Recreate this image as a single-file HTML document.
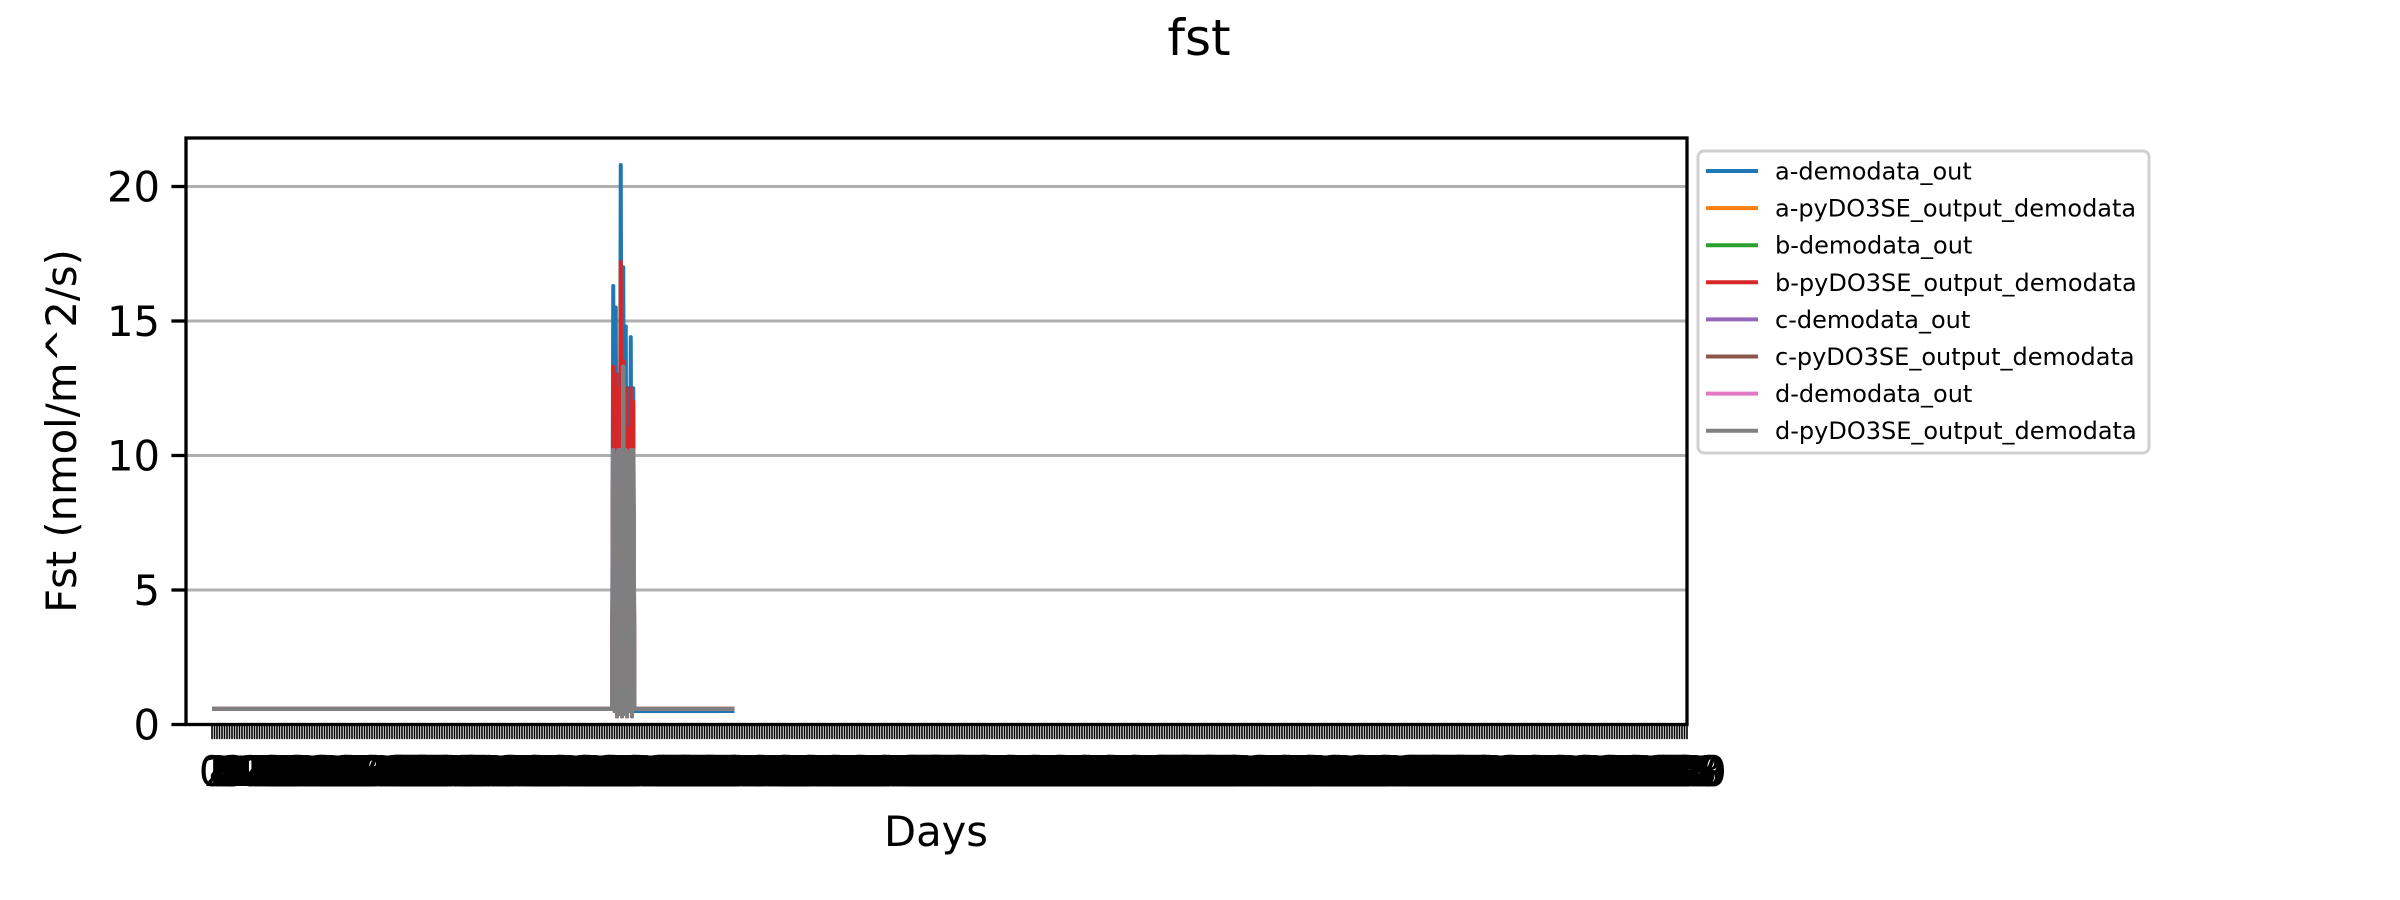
<!DOCTYPE html>
<html><head><meta charset="utf-8"><style>
html,body{margin:0;padding:0;background:#fff}
svg{display:block;font-family:"DejaVu Sans","Liberation Sans",sans-serif}
</style></head><body>
<svg id="chart" width="2400" height="900" viewBox="0 0 2400 900" xmlns="http://www.w3.org/2000/svg">
<rect width="2400" height="900" fill="#fff"/>
<text x="1199" y="55" font-size="50" text-anchor="middle">fst</text>
<g id="grid"></g>
<g id="series"></g>
<g id="xaxis"></g>
<g id="yaxis"></g>
<rect x="186" y="138" width="1501" height="586.5" fill="none" stroke="#000" stroke-width="3.3"/>
<text x="936" y="846" font-size="41.7" text-anchor="middle">Days</text>
<text transform="translate(76,431) rotate(-90)" font-size="41.7" text-anchor="middle">Fst (nmol/m^2/s)</text>
<g id="legend">
<rect x="1698" y="151" width="451" height="302" rx="6" fill="#fff" fill-opacity="0.8" stroke="#d0d0d0" stroke-width="3"/>
</g>
</svg>
<script>
const yTicks = [0, 5, 10, 15, 20];
const seriesNames = ["a-demodata_out","a-pyDO3SE_output_demodata","b-demodata_out","b-pyDO3SE_output_demodata","c-demodata_out","c-pyDO3SE_output_demodata","d-demodata_out","d-pyDO3SE_output_demodata"];
const seriesColors = ["#1f77b4","#ff7f0e","#2ca02c","#d62728","#9467bd","#8c564b","#e377c2","#7f7f7f"];
const xPoints = [0,160,160.5,161,161.5,162,162.5,163,163.5,164,164.5,165,165.5,166,166.5,167,167.5,168,168.5,169,209];
const aOut = [0.58,0.58,16.3,0.5,15.5,0.3,13,0.4,20.8,0.3,17,0.4,14.8,0.3,12.5,0.5,14.4,0.3,12.5,0.5,0.5];
const aPy  = [0.58,0.58,10.2,0.5,10,0.3,10.2,0.4,10.2,0.3,13.3,0.4,10.2,0.3,10.1,0.5,10.2,0.3,10.2,0.58,0.58];
const bOut = [0.58,0.58,10.2,0.5,10,0.3,10.2,0.4,10.2,0.3,13.3,0.4,10.2,0.3,10.1,0.5,10.2,0.3,10.2,0.58,0.58];
const bPy  = [0.58,0.58,13.3,0.5,13,0.3,12.5,0.4,17.2,0.3,13.5,0.4,12.5,0.3,11,0.5,12.5,0.3,12,0.58,0.58];
const cOut = [0.58,0.58,10.2,0.5,10,0.3,10.2,0.4,10.2,0.3,13.3,0.4,10.2,0.3,10.1,0.5,10.2,0.3,10.2,0.58,0.58];
const cPy  = [0.58,0.58,10.2,0.5,10,0.3,10.2,0.4,10.2,0.3,13.3,0.4,10.2,0.3,10.1,0.5,10.2,0.3,10.2,0.58,0.58];
const dOut = [0.58,0.58,10.2,0.5,10,0.3,10.2,0.4,10.2,0.3,13.3,0.4,10.2,0.3,10.1,0.5,10.2,0.3,10.2,0.58,0.58];
const dPy  = [0.58,0.58,10.2,0.5,10,0.3,10.2,0.4,10.2,0.3,13.3,0.4,10.2,0.3,10.1,0.5,10.2,0.3,10.2,0.58,0.58];
const seriesValues = [aOut,aPy,bOut,bPy,cOut,cPy,dOut,dPy];
const xTickCount = 591;

const NS = "http://www.w3.org/2000/svg";
const X0 = 212, XSTEP = 2.5, Y0 = 724.5, YSCALE = 26.9, LEFT = 186, RIGHT = 1687;
function xScale(i){ return X0 + i * XSTEP; }
function yScale(v){ return Y0 - v * YSCALE; }
function mk(tag, attrs){ const e = document.createElementNS(NS, tag); for (const k in attrs) e.setAttribute(k, attrs[k]); return e; }

const grid = document.getElementById('grid');
const yaxis = document.getElementById('yaxis');
yTicks.forEach(t => {
  const y = yScale(t);
  const gl = mk('line', {x1: LEFT, x2: RIGHT, y1: y, y2: y, stroke: '#b0b0b0', 'stroke-width': 3});
  
  
  grid.appendChild(gl);
  const tk = mk('line', {x1: LEFT - 14.6, x2: LEFT, y1: y, y2: y, stroke: '#000', 'stroke-width': 3.3});
  
  
  yaxis.appendChild(tk);
  const lb = mk('text', {x: LEFT - 26, y: y + 15, 'font-size': 41.7, 'text-anchor': 'end'});
  lb.textContent = String(t);
  
  
  yaxis.appendChild(lb);
});

const xaxis = document.getElementById('xaxis');
let tickPath = '';
for (let i = 0; i < xTickCount; i++) {
  const x = xScale(i);
  tickPath += 'M' + x + ' ' + Y0 + 'V' + (Y0 + 14.6);
}
const tp = mk('path', {d: tickPath, stroke: '#000', 'stroke-width': 1.6, fill: 'none'});


xaxis.appendChild(tp);
for (let i = 0; i < xTickCount; i++) {
  const lb = mk('text', {x: xScale(i), y: 786, 'font-size': 41.7, 'text-anchor': 'middle'});
  lb.textContent = String(i);
  
  
  xaxis.appendChild(lb);
}

const sg = document.getElementById('series');
seriesValues.forEach((vals, s) => {
  const pts = vals.map((v, k) => xScale(xPoints[k]) + ',' + yScale(v)).join(' ');
  const pl = mk('polyline', {points: pts, fill: 'none', stroke: seriesColors[s], 'stroke-width': 4, 'stroke-linejoin': 'round'});
  
  
  sg.appendChild(pl);
});

const lg = document.getElementById('legend');
seriesNames.forEach((n, s) => {
  const y = 171 + s * 37.1;
  const ln = mk('line', {x1: 1706, x2: 1758, y1: y, y2: y, stroke: seriesColors[s], 'stroke-width': 4});
  
  
  lg.appendChild(ln);
  const tx = mk('text', {x: 1775, y: y + 8.5, 'font-size': 24});
  tx.textContent = n;
  
  
  lg.appendChild(tx);
});
</script>
</body></html>
